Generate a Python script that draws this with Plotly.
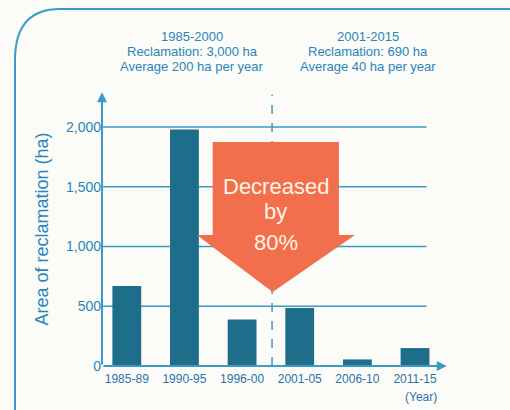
import plotly.graph_objects as go

# data
periods = ['1985-89', '1990-95', '1996-00', '2001-05', '2006-10', '2011-15']
area_ha = [670, 1980, 390, 485, 55, 150]
y_ticks = [0, 500, 1000, 1500, 2000]
y_tick_text = ['0', '500', '1,000', '1,500', '2,000']
left_head = ['1985-2000', 'Reclamation: 3,000 ha', 'Average 200 ha per year']
right_head = ['2001-2015', 'Reclamation: 690 ha', 'Average 40 ha per year']

teal_bar = '#1e6d8a'
teal_line = '#3a9bc6'
teal_text = '#2a86ba'
tick_text = '#2a74a8'
orange = '#f26f4d'

x_pos = list(range(len(periods)))

fig = go.Figure()
fig.add_trace(go.Bar(
    x=x_pos, y=area_ha, width=0.5,
    marker=dict(color=teal_bar, line=dict(width=0)),
    showlegend=False, hoverinfo='skip'
))

shapes = []
# horizontal gridlines
for v in y_ticks[1:]:
    shapes.append(dict(type='line', xref='x', yref='y', x0=-0.43, x1=5.2,
                       y0=v, y1=v, line=dict(color=teal_line, width=1.5),
                       layer='below'))
# dashed divider between the two periods
shapes.append(dict(type='line', xref='x', yref='y', x0=2.52, x1=2.52,
                   y0=0, y1=2270, line=dict(color=teal_line, width=1.5,
                                            dash='dash'), layer='below'))
# big "decreased" arrow
shapes.append(dict(type='path', xref='x', yref='y', layer='above',
                   path='M 1.49 1874 L 3.68 1874 L 3.68 1096 L 3.96 1096 '
                        'L 2.53 619 L 1.215 1096 L 1.49 1096 Z',
                   fillcolor=orange, line=dict(width=0)))
# rounded frame round the whole chart (paper coords)
fx0 = (15 - 102) / 343
fy_top = (366 - 9) / 274
fx_round = (60 - 102) / 343
fy_round = (366 - 60) / 274
shapes.append(dict(type='path', xref='paper', yref='paper',
                   path=f'M {fx0} -0.2 L {fx0} {fy_round} '
                        f'Q {fx0} {fy_top} {fx_round} {fy_top} L 1.3 {fy_top}',
                   line=dict(color=teal_line, width=2)))

annotations = []
# axes drawn as arrows
annotations.append(dict(x=5.55, y=0, ax=-0.43, ay=0, xref='x', yref='y',
                        axref='x', ayref='y', showarrow=True, arrowhead=2,
                        arrowsize=1, arrowwidth=2, arrowcolor=teal_line,
                        text=''))
annotations.append(dict(x=-0.43, y=2290, ax=-0.43, ay=0, xref='x', yref='y',
                        axref='x', ayref='y', showarrow=True, arrowhead=2,
                        arrowsize=1, arrowwidth=2, arrowcolor=teal_line,
                        text=''))

# period headers, one annotation per line to keep the tight spacing
head_font = dict(family='Liberation Sans, Arial', size=13, color=teal_text)
for cx, lines in [(192, left_head), (368, right_head)]:
    for i, line in enumerate(lines):
        annotations.append(dict(x=(cx - 102) / 343,
                                y=(366 - (37 + 15 * i)) / 274,
                                xref='paper', yref='paper', showarrow=False,
                                xanchor='center', yanchor='middle',
                                borderpad=0, text=line, font=head_font))
annotations.append(dict(x=(421 - 102) / 343, y=(366 - 397) / 274,
                        xref='paper', yref='paper', showarrow=False,
                        xanchor='center', yanchor='middle',
                        text='(Year)', font=dict(
                            family='Liberation Sans, Arial',
                            size=12, color=tick_text)))
# text in the arrow
arrow_font = dict(family='Liberation Sans, Arial', size=22, color='#fff3e4')
for txt, yy in [('Decreased', 1500), ('by', 1290), ('80%', 1030)]:
    annotations.append(dict(x=2.58, y=yy, xref='x', yref='y',
                            showarrow=False, text=txt, font=arrow_font))

fig.update_layout(
    width=510, height=410,
    margin=dict(l=102, r=65, t=92, b=44),
    paper_bgcolor='#fbfbf7', plot_bgcolor='#fbfbf7',
    bargap=0.5,
    xaxis=dict(range=[-0.43, 5.52], tickmode='array', tickvals=x_pos,
               ticktext=periods, showgrid=False, zeroline=False,
               showline=False, ticks='', ticklabelstandoff=4,
               tickfont=dict(family='Liberation Sans, Arial',
                             size=12, color=tick_text)),
    yaxis=dict(range=[0, 2293], tickmode='array', tickvals=y_ticks,
               ticktext=y_tick_text, showgrid=False, zeroline=False,
               showline=False, ticks='',
               title=dict(text='Area of reclamation (ha)', standoff=12,
                          font=dict(family='Liberation Sans, Arial',
                                    size=18, color=teal_text)),
               tickfont=dict(family='Liberation Sans, Arial',
                             size=14, color=teal_text)),
    shapes=shapes,
    annotations=annotations,
)

fig.write_html('out.html', config={'displayModeBar': False},
               post_script="document.body.style.margin='0';")
